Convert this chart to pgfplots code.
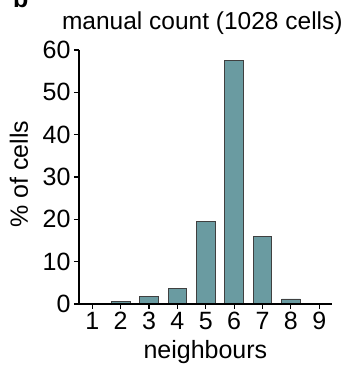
\documentclass[border=0pt]{standalone}
\usepackage{fontspec}
\setmainfont{Liberation Sans}
\usepackage{pgfplots}
\pgfplotsset{compat=1.18}
\definecolor{barcol}{HTML}{6A9BA1}
\begin{document}
\begin{tikzpicture}[x=1bp,y=1bp]
\useasboundingbox (0,0) rectangle (352,367);
\begin{axis}[
  at={(79bp,63bp)}, anchor=south west,
  scale only axis, width=252.7bp, height=254bp,
  xmin=0.53, xmax=9.44, ymin=0, ymax=60,
  axis x line*=bottom, axis y line*=left,
  axis line style={line width=1.6bp, -},
  xtick={1,...,9}, ytick={0,10,...,60},
  tick align=outside, major tick length=5bp,
  tick style={line width=1.2bp, black},
  /pgf/number format/assume math mode=true,
  tick label style={font=\fontsize{25bp}{30bp}\selectfont},
  label style={font=\fontsize{25bp}{30bp}\selectfont},
  title style={font=\fontsize{24.5bp}{30bp}\selectfont, at={(axis description cs:0.5,1)}, anchor=base, yshift=15bp, xshift=-3bp},
  title={manual count (1028 cells)},
  xlabel={neighbours},
  ylabel={\% of cells},
  xlabel style={at={(axis description cs:0.5,0)}, anchor=base, yshift=-54.5bp},
  ylabel style={at={(axis description cs:0,0.5)}, anchor=base, yshift=51bp, xshift=3bp},
  ybar, bar width=18.7bp,
  axis on top,
]
\addplot[fill=barcol, draw=black!75, line width=0.8bp] coordinates {(1,0) (2,0.55) (3,1.8) (4,3.7) (5,19.45) (6,57.6) (7,15.9) (8,1.2) (9,0)};
\end{axis}
\node[font=\bfseries\fontsize{25bp}{30bp}\selectfont, anchor=base west, inner sep=0pt] at (13,360) {b};
\end{tikzpicture}
\end{document}
